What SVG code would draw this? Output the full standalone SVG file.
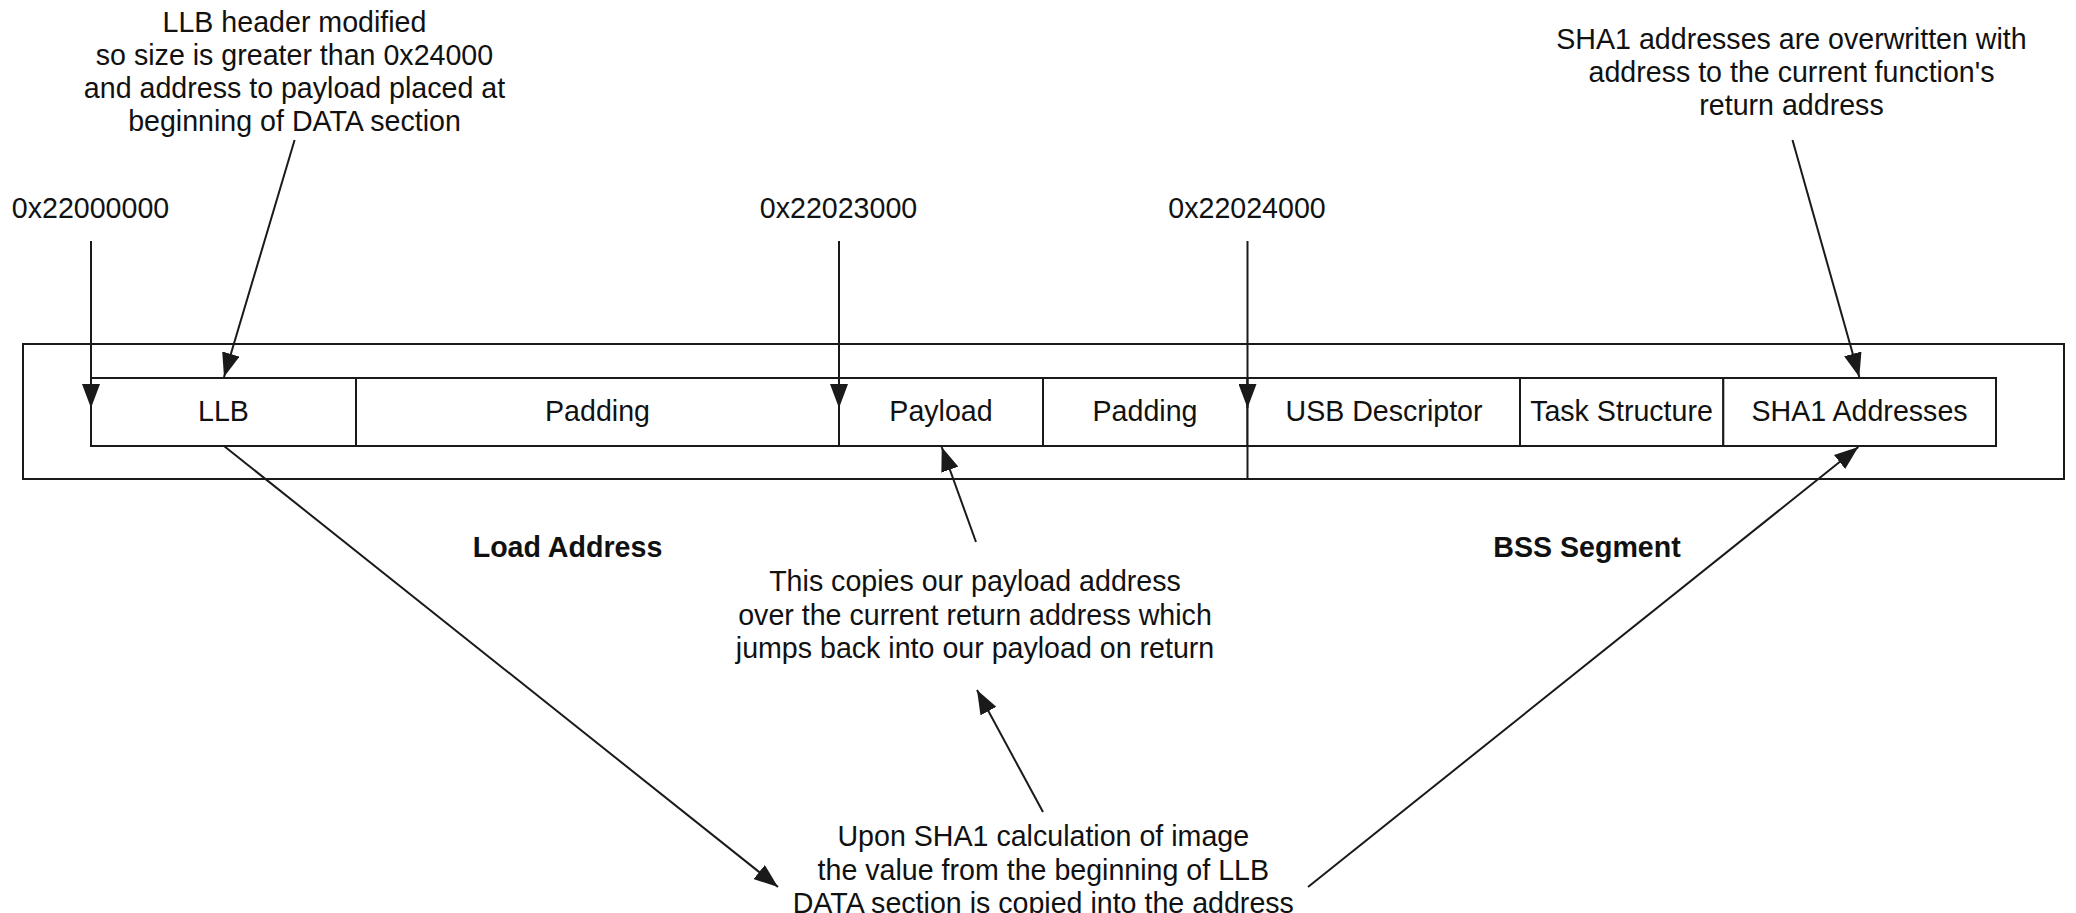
<svg xmlns="http://www.w3.org/2000/svg" width="2076" height="913" viewBox="0 0 2076 913">
<style>
  text { font-family: "Liberation Sans", Arial, Helvetica, sans-serif; font-size: 28.6px; fill: #111; text-anchor: middle; }
  .bold { font-weight: bold; }
  .box { fill: none; stroke: #1a1a1a; stroke-width: 2; }
  .cell { fill: #fff; stroke: #1a1a1a; stroke-width: 2; }
  .conn { fill: none; stroke: #1a1a1a; stroke-width: 2; marker-end: url(#arrow); }
  .plain { fill: none; stroke: #1a1a1a; stroke-width: 2; }
</style>
<defs>
  <marker id="arrow" viewBox="0 0 24 18" refX="24" refY="9" markerWidth="24" markerHeight="18" markerUnits="userSpaceOnUse" orient="auto">
    <path d="M0,0 L24,9 L0,18 Z" fill="#1a1a1a"/>
  </marker>
</defs>
<rect width="2076" height="913" fill="#fff"/>

<g id="memory-map">
  <rect class="box" x="23" y="344" width="2041" height="135"/>
  <line class="plain" x1="1247.5" y1="446" x2="1247.5" y2="479"/>
</g>

<g id="cell-llb">
  <rect class="cell" x="91" y="378" width="265" height="68"/>
  <text x="223.5" y="421">LLB</text>
</g>
<g id="cell-padding1">
  <rect class="cell" x="356" y="378" width="483" height="68"/>
  <text x="597.5" y="421">Padding</text>
</g>
<g id="cell-payload">
  <rect class="cell" x="839" y="378" width="204" height="68"/>
  <text x="941" y="421">Payload</text>
</g>
<g id="cell-padding2">
  <rect class="cell" x="1043" y="378" width="204.5" height="68"/>
  <text x="1145" y="421">Padding</text>
</g>
<g id="cell-usb">
  <rect class="cell" x="1247.5" y="378" width="272.5" height="68"/>
  <text x="1384" y="421">USB Descriptor</text>
</g>
<g id="cell-task">
  <rect class="cell" x="1520" y="378" width="203.3" height="68"/>
  <text x="1621.5" y="421">Task Structure</text>
</g>
<g id="cell-sha1">
  <rect class="cell" x="1723.3" y="378" width="272.7" height="68"/>
  <text x="1859.5" y="421">SHA1 Addresses</text>
</g>

<g id="label-load-address">
  <text class="bold" x="567.5" y="557">Load Address</text>
</g>
<g id="label-bss-segment">
  <text class="bold" x="1587" y="557">BSS Segment</text>
</g>

<g id="addr-22000000"><text x="90.5" y="218">0x22000000</text></g>
<g id="addr-22023000"><text x="838.5" y="218">0x22023000</text></g>
<g id="addr-22024000"><text x="1247" y="218">0x22024000</text></g>

<g id="note-llb-header">
  <text x="294.5" y="32">LLB header modified</text>
  <text x="294.5" y="65">so size is greater than 0x24000</text>
  <text x="294.5" y="98">and address to payload placed at</text>
  <text x="294.5" y="131">beginning of DATA section</text>
</g>
<g id="note-sha1">
  <text x="1791.5" y="48.5">SHA1 addresses are overwritten with</text>
  <text x="1791.5" y="82">address to the current function's</text>
  <text x="1791.5" y="115">return address</text>
</g>
<g id="note-payload">
  <text x="975" y="591">This copies our payload address</text>
  <text x="975" y="624.5">over the current return address which</text>
  <text x="975" y="658">jumps back into our payload on return</text>
</g>
<g id="note-sha1-calc">
  <text x="1043.3" y="846">Upon SHA1 calculation of image</text>
  <text x="1043.3" y="879.5">the value from the beginning of LLB</text>
  <text x="1043.3" y="913">DATA section is copied into the address</text>
</g>

<g id="connectors">
  <line class="conn" x1="294.6" y1="140" x2="224" y2="377"/>
  <line class="conn" x1="91" y1="241" x2="91" y2="408"/>
  <line class="conn" x1="839" y1="241" x2="839" y2="408"/>
  <line class="conn" x1="1247.5" y1="241" x2="1247.5" y2="408"/>
  <line class="conn" x1="1792.5" y1="140" x2="1859.3" y2="377"/>
  <line class="conn" x1="976" y1="542" x2="941.7" y2="447"/>
  <line class="conn" x1="1043" y1="812" x2="977" y2="690"/>
  <line class="conn" x1="224" y1="446" x2="778" y2="887"/>
  <line class="conn" x1="1308" y1="887" x2="1858.3" y2="447"/>
</g>
</svg>
